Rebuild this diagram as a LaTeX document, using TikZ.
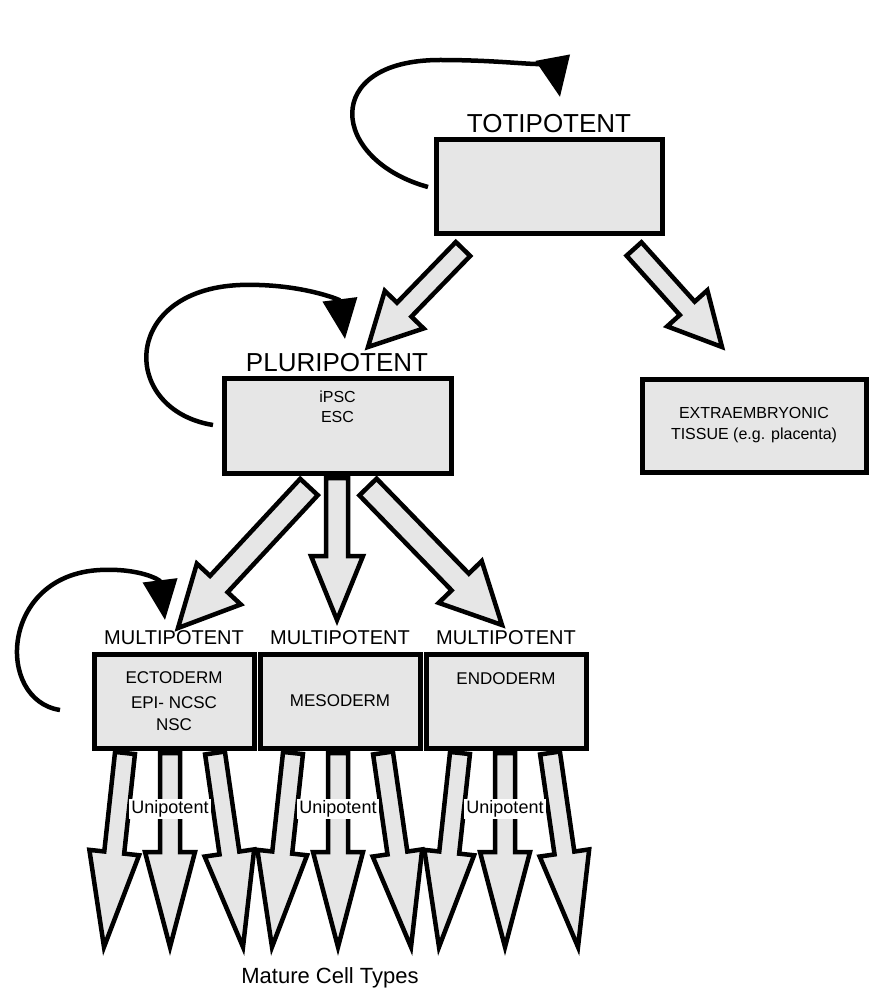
\documentclass[tikz,border=0pt]{standalone}
\usepackage{fontspec}
\setmainfont{Liberation Sans}
\usetikzlibrary{calc,arrows.meta}
\definecolor{boxg}{HTML}{E6E6E6}
\tikzset{
 box/.style={draw=black,line width=5pt,fill=boxg,align=center,inner sep=0pt},
 barrow/.style={draw=black,line width=4.5pt,fill=boxg,line join=miter,miter limit=10},
 loop/.style={draw=black,line width=4.5pt,-{Triangle[length=40pt,width=34pt]}},
}
% \blockarrow{start}{tip}{shaft half-width}{head half-width}{head length}
\newcommand{\blockarrow}[5]{%
 \path[barrow] ($(#1)!#3!90:(#2)$) -- ($($(#2)!#5!(#1)$)!#3!-90:(#1)$) --
   ($($(#2)!#5!(#1)$)!#4!-90:(#1)$) -- (#2) --
   ($($(#2)!#5!(#1)$)!#4!90:(#1)$) -- ($($(#2)!#5!(#1)$)!#3!90:(#1)$) --
   ($(#1)!#3!-90:(#2)$) -- cycle;}
\begin{document}
\begin{tikzpicture}[x=1pt,y=-1pt]
\useasboundingbox (0,0) rectangle (882,1000);
% boxes
\node[box,minimum width=226pt,minimum height=94pt] (toti) at (549,187) {};
\node[font=\fontsize{26}{28}\selectfont,anchor=base] (totil) at (549,133) {TOTIPOTENT};
\node[box,minimum width=227pt,minimum height=95pt,font=\fontsize{16}{20}\selectfont] (pluri) at (337.5,425.5) {iPSC\\ESC\\[18pt]};
\node[font=\fontsize{26}{28}\selectfont,anchor=base] (plul) at (337,371) {PLURIPOTENT};
\node[box,minimum width=224pt,minimum height=93pt,font=\fontsize{16}{21}\selectfont] (extra) at (754,425.5) {EXTRAEMBRYONIC\\TISSUE (e.g. placenta)};
\node[box,minimum width=160pt,minimum height=94pt,font=\fontsize{17}{22}\selectfont] (ecto) at (174,701) {ECTODERM\\[3pt]EPI- NCSC\\NSC};
\node[box,minimum width=160pt,minimum height=94pt,font=\fontsize{17}{22}\selectfont] (meso) at (340,701) {MESODERM};
\node[box,minimum width=160pt,minimum height=94pt,font=\fontsize{17}{22}\selectfont] (endo) at (506,701) {ENDODERM\\[22pt]};
\foreach \b in {ecto,meso,endo}
  \node[font=\fontsize{20}{22}\selectfont,anchor=base] (\b l) at ($(\b.north)+(0,-7)$) {MULTIPOTENT};
% block arrows top
\coordinate (a1s) at (463,249); \coordinate (a1t) at (368,347);
\coordinate (a2s) at (634,249); \coordinate (a2t) at (722,347);
\blockarrow{a1s}{a1t}{10pt}{27pt}{52pt}
\blockarrow{a2s}{a2t}{10pt}{27pt}{52pt}
\coordinate (b1s) at (309,487); \coordinate (b1t) at (178,628);
\coordinate (b2s) at (337,478); \coordinate (b2t) at (337,620);
\coordinate (b3s) at (368,487); \coordinate (b3t) at (502,625);
\blockarrow{b1s}{b1t}{12pt}{30pt}{60pt}
\blockarrow{b2s}{b2t}{11pt}{26pt}{64pt}
\blockarrow{b3s}{b3t}{12pt}{30pt}{60pt}
% bottom arrows
\foreach \b/\c in {ecto/170,meso/338,endo/505}{
  \coordinate (\b s1) at (\c-45,753); \coordinate (\b t1) at (\c-66,947);
  \coordinate (\b s2) at (\c,753);    \coordinate (\b t2) at (\c,947);
  \coordinate (\b s3) at (\c+45,753); \coordinate (\b t3) at (\c+73,947);
  \blockarrow{\b s1}{\b t1}{10pt}{25pt}{95pt}
  \blockarrow{\b s2}{\b t2}{10pt}{25pt}{95pt}
  \blockarrow{\b s3}{\b t3}{10pt}{25pt}{95pt}
  \node[fill=white,inner sep=2pt,font=\fontsize{18}{20}\selectfont] (\b u) at (\c,809) {Unipotent};
}
\node[font=\fontsize{22}{24}\selectfont] (mature) at (330,978) {Mature Cell Types};
% self loops
\coordinate (l1s) at (428,187); \coordinate (l1t) at (560,97);
\draw[loop] (l1s) .. controls (330,160) and (320,60) .. (440,60) .. controls (520,60) and (555,70) .. (l1t);
\coordinate (l2s) at (213,425); \coordinate (l2t) at (345,339);
\draw[loop] (l2s) .. controls (120,410) and (120,290) .. (240,285) .. controls (300,283) and (340,300) .. (l2t);
\coordinate (l3s) at (60,710); \coordinate (l3t) at (165,620);
\draw[loop] (l3s) .. controls (-5,700) and (0,575) .. (100,570) .. controls (140,568) and (160,580) .. (l3t);
\end{tikzpicture}
\end{document}
